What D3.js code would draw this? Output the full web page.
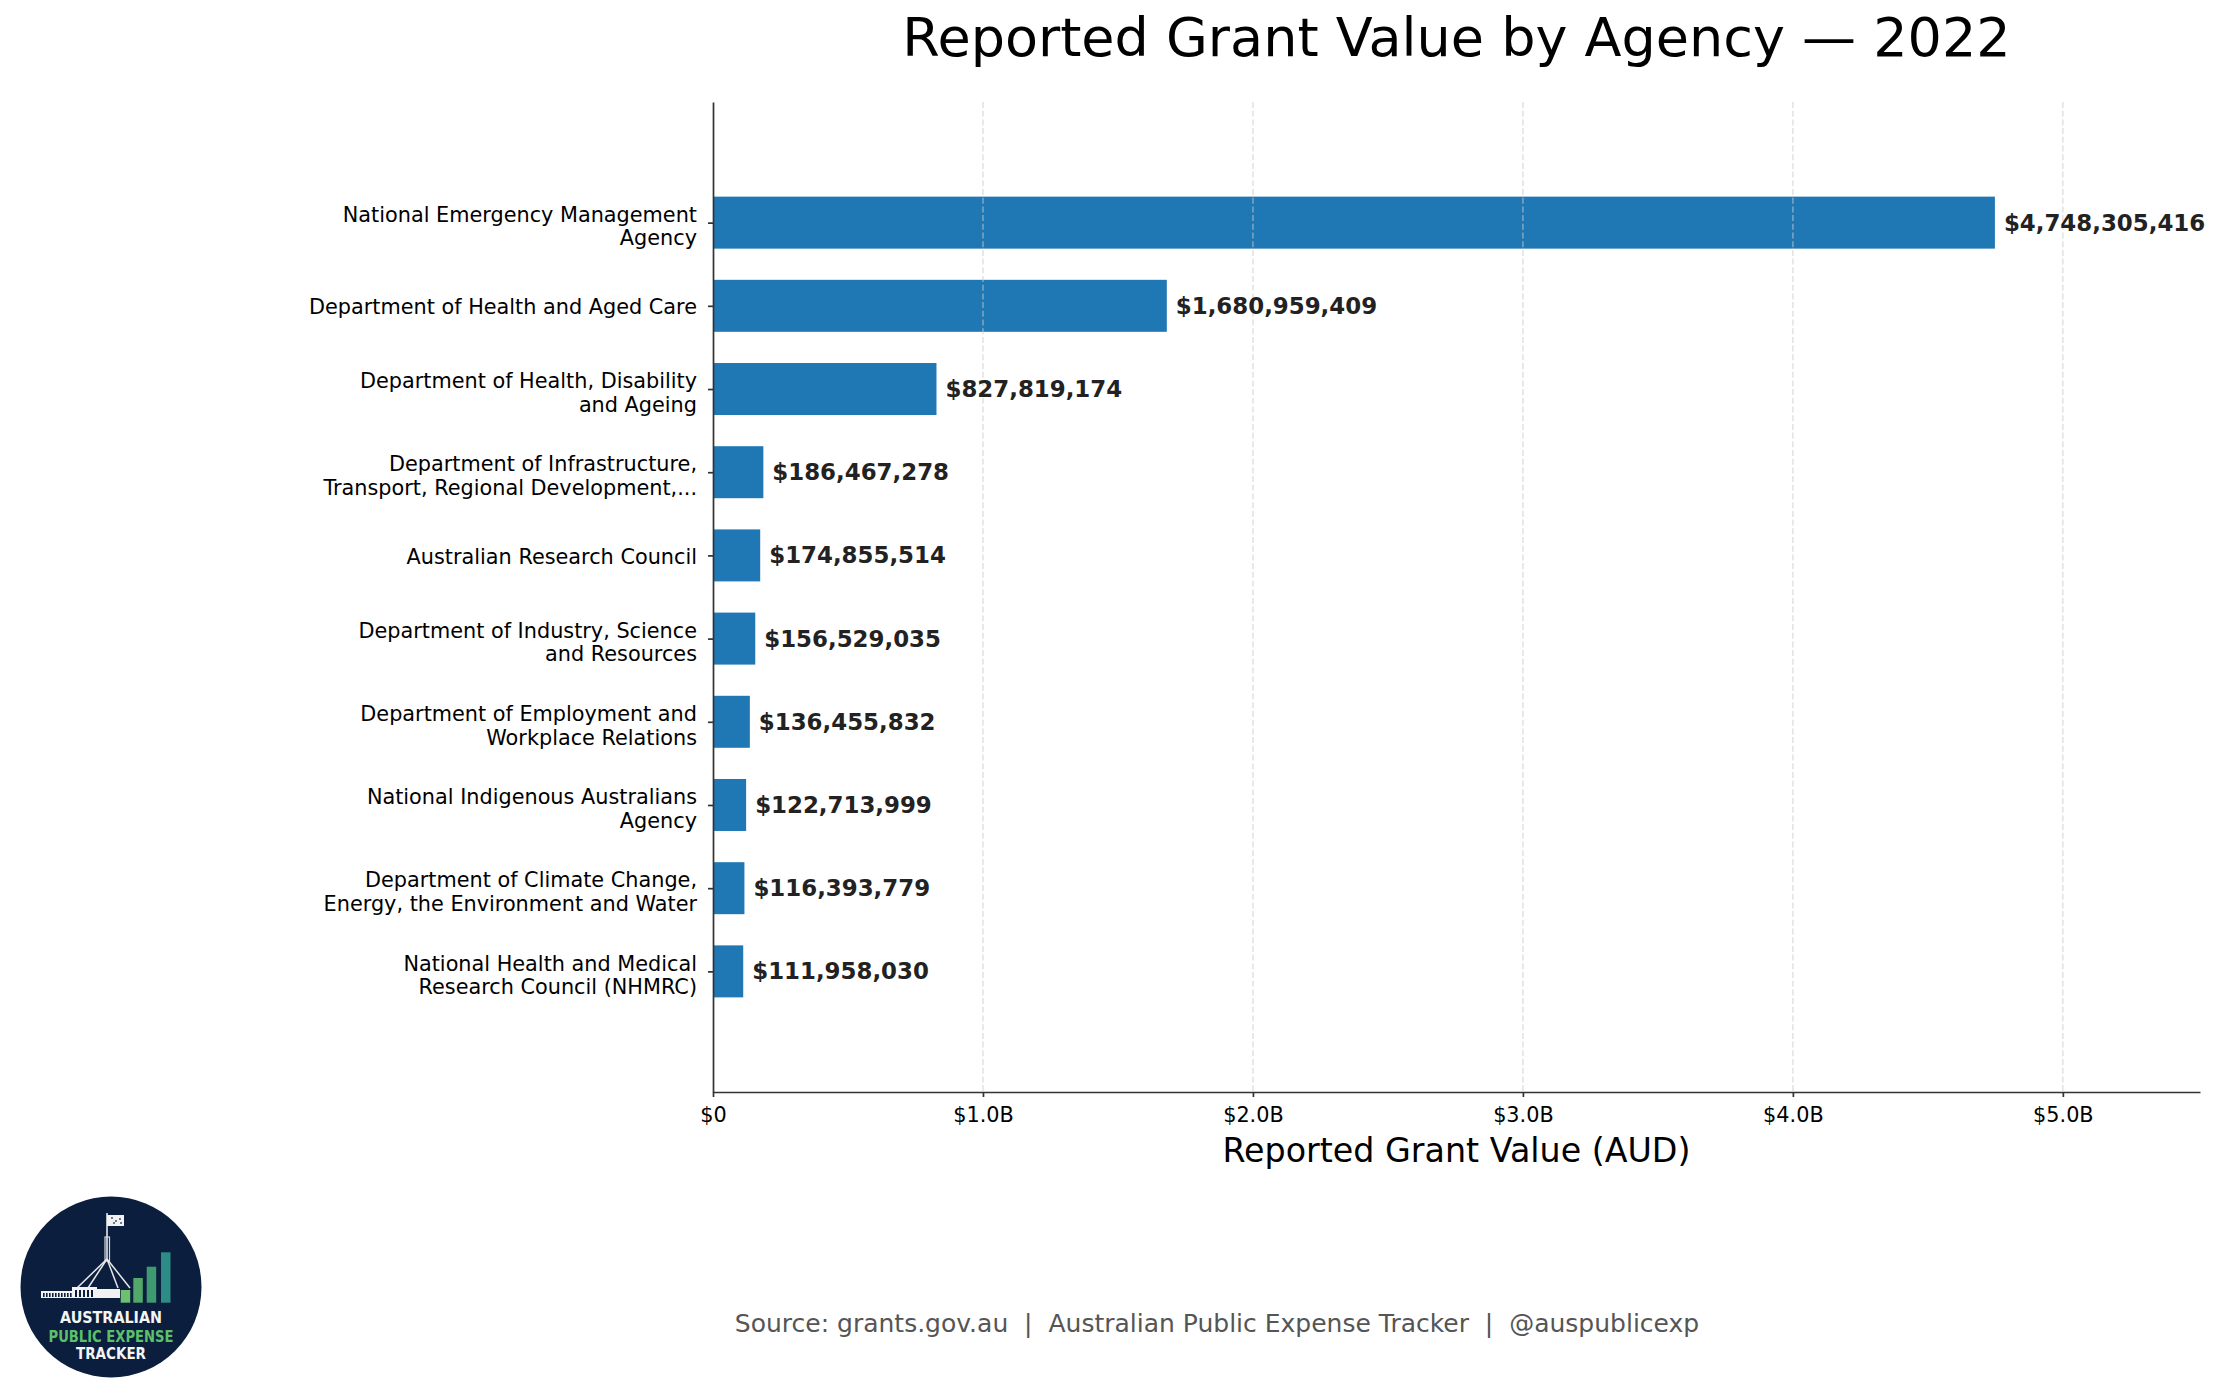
<!DOCTYPE html>
<html>
<head>
<meta charset="utf-8">
<script src="https://cdn.jsdelivr.net/npm/d3@7"></script>
<style>
  body { margin: 0; background: #fff; }
  svg { display: block; font-family: "DejaVu Sans", sans-serif; }
</style>
</head>
<body>
<svg id="chart"></svg>
<script>
// data
var agencies = [
    "National Emergency Management\nAgency",
    "Department of Health and Aged Care",
    "Department of Health, Disability\nand Ageing",
    "Department of Infrastructure,\nTransport, Regional Development,...",
    "Australian Research Council",
    "Department of Industry, Science\nand Resources",
    "Department of Employment and\nWorkplace Relations",
    "National Indigenous Australians\nAgency",
    "Department of Climate Change,\nEnergy, the Environment and Water",
    "National Health and Medical\nResearch Council (NHMRC)"
];
var grantValues = [4748305416, 1680959409, 827819174, 186467278, 174855514,
                   156529035, 136455832, 122713999, 116393779, 111958030];
var xTickValues = [0, 1e9, 2e9, 3e9, 4e9, 5e9];
var xTickLabels = ["$0", "$1.0B", "$2.0B", "$3.0B", "$4.0B", "$5.0B"];

var width = 2219;
var height = 1399;
var margin = { top: 102, right: 19, bottom: 307, left: 713 };

var svg = d3.select("#chart")
    .attr("width", width)
    .attr("height", height);

var x = d3.scaleLinear()
    .domain([0, d3.max(grantValues) * 1.16])
    .range([margin.left, width - margin.right]);

var y = d3.scalePoint()
    .domain(agencies)
    .range([margin.top, height - margin.bottom])
    .padding(1.45);

var barH = y.step() * 0.625;

// Bars
svg.append("g")
    .selectAll("rect")
    .data(agencies)
    .enter().append("rect")
    .attr("x", x(0))
    .attr("y", function (d) { return y(d) - barH / 2; })
    .attr("width", function (d, i) { return x(grantValues[i]) - x(0); })
    .attr("height", barH)
    .style("fill", "#1f77b4");

// dashed grid on top of the bars
svg.append("g")
    .selectAll("line")
    .data(xTickValues.slice(1))
    .enter().append("line")
    .attr("x1", function (d) { return x(d); })
    .attr("x2", function (d) { return x(d); })
    .attr("y1", margin.top)
    .attr("y2", height - margin.bottom)
    .style("stroke", "#cccccc")
    .style("stroke-opacity", 0.5)
    .style("stroke-width", 1.7)
    .style("stroke-dasharray", "6,2.7");

// Value labels
svg.append("g")
    .selectAll("text")
    .data(agencies)
    .enter().append("text")
    .attr("x", function (d, i) { return x(grantValues[i]) + 9; })
    .attr("y", function (d) { return y(d) + 8; })
    .attr("font-size", "22.9px")
    .attr("font-weight", "bold")
    .style("fill", "#222")
    .text(function (d, i) { return "$" + d3.format(",")(grantValues[i]); });

// X axis
var xAxis = svg.append("g")
    .attr("transform", "translate(0," + (height - margin.bottom) + ")")
    .call(d3.axisBottom(x)
        .tickValues(xTickValues)
        .tickFormat(function (d, i) { return xTickLabels[i]; })
        .tickSize(5)
        .tickSizeOuter(0)
        .tickPadding(10));
xAxis.selectAll("text")
    .attr("font-size", "20.8px")
    .attr("font-family", "DejaVu Sans")
    .style("fill", "#000");

// Y axis
var yAxis = svg.append("g")
    .attr("transform", "translate(" + margin.left + ",0)")
    .call(d3.axisLeft(y)
        .tickSize(5)
        .tickSizeOuter(0)
        .tickPadding(11));
yAxis.selectAll("text")
    .attr("font-size", "20.8px")
    .attr("font-family", "DejaVu Sans")
    .attr("dy", null)
    .style("fill", "#000")
    .each(function (d) {
        var lines = d.split("\n");
        var t = d3.select(this).text("");
        var lh = 23.5;
        var off = 8 + (lines.length - 1) * 2.5;
        lines.forEach(function (line, j) {
            t.append("tspan")
                .attr("x", -16)
                .attr("y", off + (j - (lines.length - 1) / 2) * lh)
                .text(line);
        });
    });

svg.selectAll(".domain").style("stroke", "#333").style("stroke-width", 1.7);
svg.selectAll(".tick line").style("stroke", "#333").style("stroke-width", 1.7);

// Title & axis label
svg.append("text")
    .attr("x", (margin.left + width - margin.right) / 2)
    .attr("y", 56)
    .attr("text-anchor", "middle")
    .attr("font-size", "54px")
    .text("Reported Grant Value by Agency \u2014 2022");

svg.append("text")
    .attr("x", (margin.left + width - margin.right) / 2)
    .attr("y", 1162)
    .attr("text-anchor", "middle")
    .attr("font-size", "33.3px")
    .text("Reported Grant Value (AUD)");

// Source line
svg.append("text")
    .attr("x", 1217)
    .attr("y", 1332)
    .attr("text-anchor", "middle")
    .attr("font-size", "25px")
    .style("fill", "#555")
    .style("white-space", "pre")
    .text("Source: grants.gov.au  |  Australian Public Expense Tracker  |  @auspublicexp");

// Logo badge
var logo = svg.append("g").attr("transform", "translate(111,1287)");
logo.append("circle").attr("r", 90.5).style("fill", "#0b1e3e");

// flag + pole
logo.append("line").attr("x1", -4).attr("x2", -4).attr("y1", -74).attr("y2", -28)
    .style("stroke", "#e8e8e8").style("stroke-width", 1.6);
logo.append("rect").attr("x", -4).attr("y", -72).attr("width", 17).attr("height", 11)
    .style("fill", "#f2f2f2");
[[1, -69], [5, -66], [9, -68], [10, -64], [3, -64]].forEach(function (p) {
    logo.append("circle").attr("cx", p[0]).attr("cy", p[1]).attr("r", 0.9).style("fill", "#2b3f6a");
});
logo.append("rect").attr("x", -6).attr("y", -50).attr("width", 4.5).attr("height", 24)
    .style("fill", "none").style("stroke", "#d8d8d8").style("stroke-width", 1.2);
[-34, -23, 7, 19].forEach(function (lx) {
    logo.append("line").attr("x1", -4).attr("y1", -28).attr("x2", lx).attr("y2", 1)
        .style("stroke", "#e8e8e8").style("stroke-width", 1.5);
});

// parliament building
logo.append("rect").attr("x", -70).attr("y", 4).attr("width", 32).attr("height", 7).style("fill", "#f2f2f2");
logo.append("rect").attr("x", -39).attr("y", 0).attr("width", 25).attr("height", 11).style("fill", "#f2f2f2");
logo.append("rect").attr("x", -15).attr("y", 2).attr("width", 24).attr("height", 9).style("fill", "#f2f2f2");
d3.range(-68, -40, 3).forEach(function (wx) {
    logo.append("rect").attr("x", wx).attr("y", 6).attr("width", 1.6).attr("height", 4).style("fill", "#0b1e3e");
});
d3.range(-36, -18, 4).forEach(function (wx) {
    logo.append("rect").attr("x", wx).attr("y", 3).attr("width", 2).attr("height", 7).style("fill", "#0b1e3e");
});

// rising bars
var logoBars = [[9.7, 3, "#6cc070"], [22.3, -9, "#52a86a"], [35.7, -20.3, "#3f9a72"], [50, -34.7, "#2e8c86"]];
logoBars.forEach(function (b) {
    logo.append("rect").attr("x", b[0]).attr("y", b[1]).attr("width", 9.5)
        .attr("height", 15.7 - b[1]).style("fill", b[2]);
});

logo.append("text").attr("x", 0).attr("y", 36).attr("text-anchor", "middle")
    .attr("font-size", "16px").attr("font-weight", "bold")
    .attr("textLength", 102).attr("lengthAdjust", "spacingAndGlyphs")
    .style("fill", "#f4f4f4").text("AUSTRALIAN");
logo.append("text").attr("x", 0).attr("y", 54.5).attr("text-anchor", "middle")
    .attr("font-size", "16px").attr("font-weight", "bold")
    .attr("textLength", 125).attr("lengthAdjust", "spacingAndGlyphs")
    .style("fill", "#5cc06a").text("PUBLIC EXPENSE");
logo.append("text").attr("x", 0).attr("y", 72).attr("text-anchor", "middle")
    .attr("font-size", "16px").attr("font-weight", "bold")
    .attr("textLength", 70).attr("lengthAdjust", "spacingAndGlyphs")
    .style("fill", "#f4f4f4").text("TRACKER");
</script>
</body>
</html>
